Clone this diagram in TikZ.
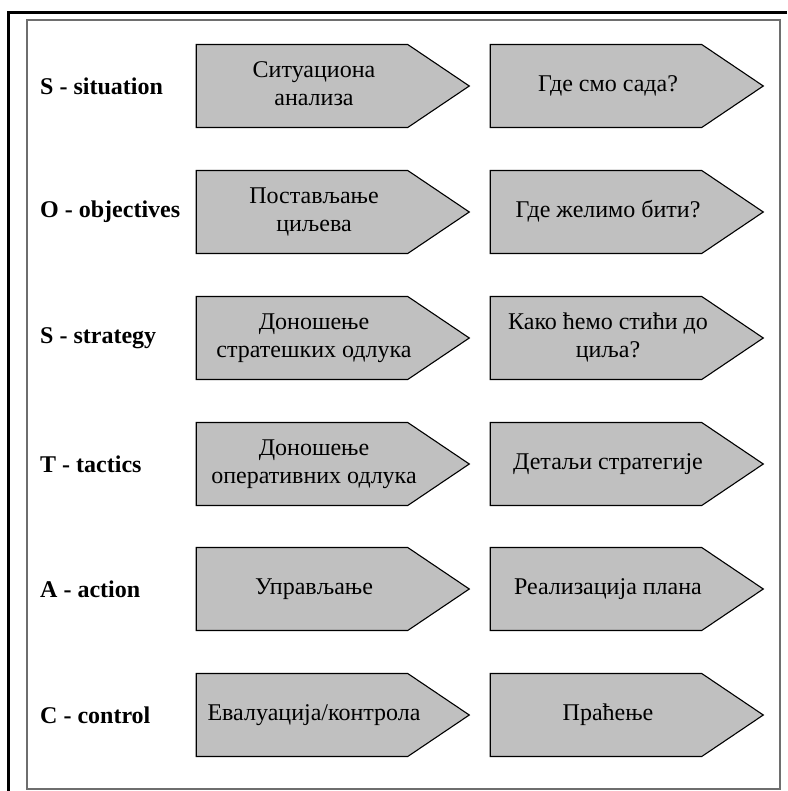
\documentclass[tikz,border=0pt]{standalone}
\usepackage{fontspec}
\setmainfont{Liberation Serif}
\usetikzlibrary{shapes.symbols}
\definecolor{boxgray}{RGB}{192,192,192}
\definecolor{framegray}{RGB}{110,110,110}
% text sits a little right of the body centre
\newcommand{\phasetxt}[1]{\makebox[190pt]{\hspace*{24pt}\begin{tabular}{@{}c@{}}#1\end{tabular}}}

\begin{document}
\begin{tikzpicture}
        [
            x=1pt, y=-1pt,
            phase/.style={signal, signal to=east, draw, line width=1.1pt, fill=boxgray, minimum width=273pt, minimum height=83pt, signal pointer angle=68, inner sep=0pt, font=\fontsize{24}{28}\selectfont},
            stage/.style={anchor=west, inner sep=0pt, font=\bfseries\fontsize{24}{28}\selectfont}
        ]
        \useasboundingbox (0,0) rectangle (787,791);
        %frame
        \draw[line width=3pt] (8,791) -- (8,13) -- (787,13);
        \draw[framegray, line width=1.5pt] (27,20) rectangle (780,789);
        %labels
        \node[stage] at (40,86)                 (sit_l)     {S - situation};
        \node[stage] at (40,212)                (obj_l)     {O - objectives};
        \node[stage] at (40,338)                (str_l)     {S - strategy};
        \node[stage] at (40,464)                (tac_l)     {T - tactics};
        \node[stage] at (40,589)                (act_l)     {A - action};
        \node[stage] at (40,715)                (con_l)     {C - control};
        %left column
        \node[phase] at (302,86)                (sit_a)     {\phasetxt{Ситуациона\\анализа}};
        \node[phase] at (302,212)               (obj_a)     {\phasetxt{Постављање\\циљева}};
        \node[phase] at (302,338)               (str_a)     {\phasetxt{Доношење\\стратешких одлука}};
        \node[phase] at (302,464)               (tac_a)     {\phasetxt{Доношење\\оперативних одлука}};
        \node[phase] at (302,589)               (act_a)     {\phasetxt{Управљање}};
        \node[phase] at (302,715)               (con_a)     {\phasetxt{Евалуација/контрола}};
        %right column
        \node[phase] at (596,86)                (sit_b)     {\phasetxt{Где смо сада?}};
        \node[phase] at (596,212)               (obj_b)     {\phasetxt{Где желимо бити?}};
        \node[phase] at (596,338)               (str_b)     {\phasetxt{Како ћемо стићи до\\циља?}};
        \node[phase] at (596,464)               (tac_b)     {\phasetxt{Детаљи стратегије}};
        \node[phase] at (596,589)               (act_b)     {\phasetxt{Реализација плана}};
        \node[phase] at (596,715)               (con_b)     {\phasetxt{Праћење}};
    \end{tikzpicture}
\end{document}
